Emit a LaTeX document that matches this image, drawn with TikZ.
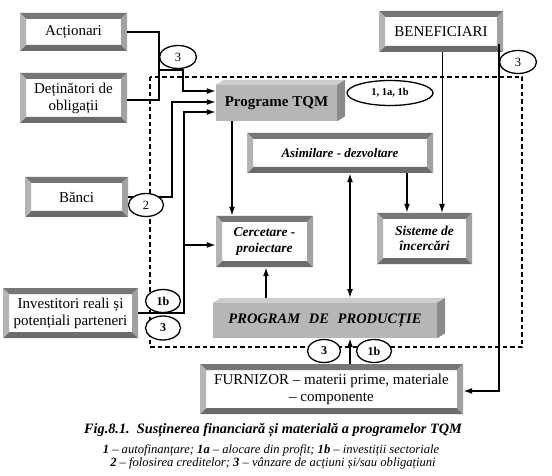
\documentclass[tikz,border=0pt]{standalone}
\usepackage{fontspec}
\setmainfont{Liberation Serif}
\usetikzlibrary{arrows.meta,calc,shapes.geometric}
\definecolor{bevtop}{HTML}{767676}
\definecolor{bevbot}{HTML}{6C6C6C}
\definecolor{bevleft}{HTML}{B4B4B4}
\definecolor{bevright}{HTML}{A2A2A2}
\definecolor{cubefront}{HTML}{B6B6B6}
\definecolor{cubetop}{HTML}{CDCDCD}
\definecolor{cuberight}{HTML}{8A8A8A}
\tikzset{
  bevelbox/.style={rectangle, inner sep=0pt, fill=white, align=center,
    font=\fontsize{15}{17}\selectfont,
    path picture={
      \path (path picture bounding box.north west) coordinate (pp1)
            (path picture bounding box.north east) coordinate (pp2)
            (path picture bounding box.south east) coordinate (pp3)
            (path picture bounding box.south west) coordinate (pp4);
      \fill[bevtop] (pp1) -- (pp2) -- ($(pp2)+(-6pt,-6pt)$) -- ($(pp1)+(6pt,-6pt)$) -- cycle;
      \fill[bevbot] (pp4) -- (pp3) -- ($(pp3)+(-6pt,6pt)$) -- ($(pp4)+(6pt,6pt)$) -- cycle;
      \fill[bevleft] (pp1) -- (pp4) -- ($(pp4)+(6pt,6pt)$) -- ($(pp1)+(6pt,-6pt)$) -- cycle;
      \fill[bevright] (pp2) -- (pp3) -- ($(pp3)+(-6pt,6pt)$) -- ($(pp2)+(-6pt,-6pt)$) -- cycle;
    }},
  italbox/.style={bevelbox, font=\fontsize{13.5}{15.5}\selectfont\bfseries\itshape},
  cubebox/.style={rectangle, inner sep=0pt, fill=cubefront, align=center},
  conn/.style={line width=1.6pt},
  thinconn/.style={line width=0.9pt},
  arr/.style={-{Latex[length=9pt,width=6pt]}},
  darr/.style={{Latex[length=9pt,width=6pt]}-{Latex[length=9pt,width=6pt]}},
  tag/.style={ellipse, draw, line width=1.3pt, fill=white, inner sep=0pt,
    minimum width=35pt, minimum height=23pt, font=\fontsize{12.5}{13}\selectfont},
  boldtag/.style={tag, font=\fontsize{12}{13}\selectfont\bfseries},
  frame/.style={line width=1.5pt, dash pattern=on 4.5pt off 3pt}
}
\begin{document}
\begin{tikzpicture}[x=1pt,y=-1pt]
\fill[white] (0,0) rectangle (552,476);
\useasboundingbox (0,0) rectangle (552,476);

% dashed frame
\draw[frame] (150,77) rectangle (522,347);

% outer boxes
\node[bevelbox, minimum width=107pt, minimum height=38pt] (act) at (73.5,32) {Acționari};
\node[bevelbox, minimum width=107pt, minimum height=50pt] (det) at (73.5,98) {Deținători de\\obligații};
\node[bevelbox, minimum width=103pt, minimum height=40pt] (banci) at (76.5,197) {Bănci};
\node[bevelbox, minimum width=135pt, minimum height=50pt] (inv) at (70.5,313) {Investitori reali și\\potențiali parteneri};
\node[bevelbox, minimum width=124pt, minimum height=41pt] (ben) at (441,31.5) {BENEFICIARI};
\node[bevelbox, minimum width=263pt, minimum height=50pt] (furn) at (331.5,389) {FURNIZOR – materii prime, materiale\\– componente};

% inner boxes
\node[italbox, minimum width=186pt, minimum height=40pt, font=\fontsize{13}{15}\selectfont\bfseries\itshape] (asim) at (340,153) {Asimilare - dezvoltare};
\node[italbox, minimum width=97pt, minimum height=51pt] (cerc) at (264.5,241.5) {Cercetare -\\proiectare};
\node[italbox, minimum width=95pt, minimum height=51pt] (sist) at (424.5,238.5) {Sisteme de\\încercări};

% cube boxes
\node[cubebox, minimum width=121pt, minimum height=36pt, font=\fontsize{15}{17}\selectfont\bfseries] (tqm) at (276.5,103) {Programe TQM};
\fill[cubetop] (tqm.north west) -- ++(8pt,5pt) -- ($(tqm.north east)+(8pt,5pt)$) -- (tqm.north east) -- cycle;
\fill[cuberight] (tqm.north east) -- ++(8pt,5pt) -- ($(tqm.south east)+(8pt,5pt)$) -- (tqm.south east) -- cycle;

\node[cubebox, minimum width=224pt, minimum height=35pt, font=\fontsize{14.5}{16}\selectfont\bfseries\itshape] (prod) at (325,320.5) {PROGRAM\hspace{0.6em}DE\hspace{0.6em}PRODUCȚIE};
\fill[cubetop] (prod.north west) -- ++(8pt,5pt) -- ($(prod.north east)+(8pt,5pt)$) -- (prod.north east) -- cycle;
\fill[cuberight] (prod.north east) -- ++(8pt,5pt) -- ($(prod.south east)+(8pt,5pt)$) -- (prod.south east) -- cycle;

% junctions
\coordinate (j1) at (159,70);
\coordinate (j2) at (183,70);
\coordinate (j3) at (172,197);
\coordinate (j4) at (184,313);

% connectors
\draw[conn] (act.east) -| (j1);
\draw[conn] ([yshift=-2pt]det.east) -| (j1);
\draw[conn, arr] (j1) -- (j2) |- ([yshift=12pt]tqm.west);
\draw[conn, arr] (banci.east) -- (j3) |- ([yshift=1pt]tqm.west);
\draw[conn, arr] (inv.east) -- (j4) |- ([yshift=-9pt]tqm.west);
\draw[conn, arr] (j4 |- 0,245) -- (cerc.west |- 0,245);
\draw[conn, arr] ([xshift=-44.5pt]tqm.south) coordinate (t1) -- (t1 |- cerc.north);
\draw[conn, arr] ([xshift=67pt]asim.south) coordinate (t2) -- (t2 |- sist.north);
\draw[thinconn, arr] ([xshift=1pt]ben.south) coordinate (t3) -- (t3 |- sist.north);
\draw[conn, arr] ([xshift=58pt,yshift=8pt]ben.south) |- ([yshift=-2pt]furn.east);
\draw[conn, darr] ([xshift=10pt]asim.south) coordinate (t4) -- (t4 |- 0,298);
\draw[conn, arr] ([xshift=-59pt,yshift=5pt]prod.north) coordinate (t5) -- (t5 |- cerc.south);
\draw[conn, arr] ([xshift=18.5pt]furn.north) coordinate (t6) -- (t6 |- prod.south);

% tags
\node[tag, minimum width=37pt] (e3a) at (178,57) {3};
\node[tag, minimum width=37pt] (e3b) at (518,62) {3};
\node[tag] (e2) at (146,205) {2};
\node[boldtag] (e1b) at (163,301) {1b};
\node[boldtag, minimum height=24pt] (e3c) at (163,328) {3};
\node[boldtag, minimum width=33pt] (e3d) at (324,351) {3};
\node[boldtag] (e1bb) at (374,351) {1b};
\node[tag, minimum width=86pt, minimum height=25pt, font=\fontsize{10.5}{12}\selectfont\bfseries] (e11) at (390,93) {1, 1a, 1b};

% caption
\node[font=\fontsize{14.3}{16}\selectfont\bfseries\itshape] (cap1) at (273,430) {Fig.8.1.\ \ Susținerea financiară și materială a programelor TQM};
\node[font=\fontsize{12.6}{13}\selectfont\itshape] (cap2) at (271,450) {\textbf{1} – autofinanțare; \textbf{1a} – alocare din profit; \textbf{1b} – investiții sectoriale};
\node[font=\fontsize{12.6}{13}\selectfont\itshape] (cap3) at (273,463) {\textbf{2} – folosirea creditelor; \textbf{3} – vânzare de acțiuni și/sau obligațiuni};
\end{tikzpicture}
\end{document}
